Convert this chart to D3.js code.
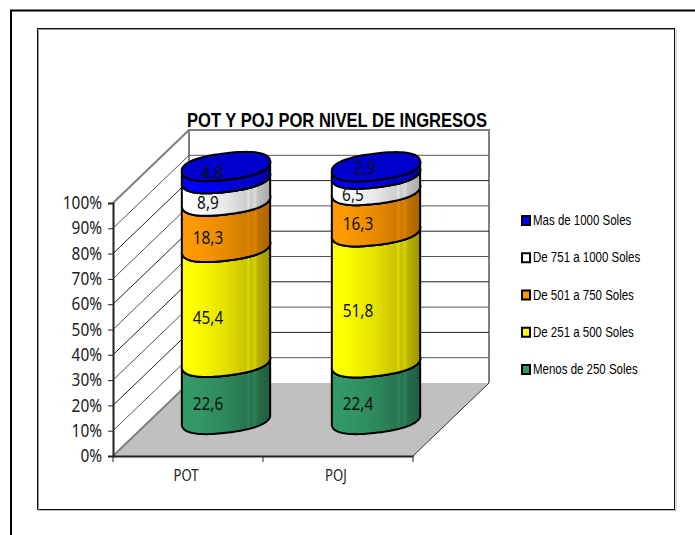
<!DOCTYPE html>
<html><head><meta charset="utf-8">
<style>html,body{margin:0;padding:0;background:#fff}svg{display:block}</style>
<script src="https://cdn.jsdelivr.net/npm/d3@7"></script></head>
<body><svg id="c" width="695" height="535"></svg>
<script>
const titleText = "POT Y POJ POR NIVEL DE INGRESOS";
const categories = ["POT", "POJ"];
const seriesNames = ["Menos de 250 Soles", "De 251 a 500 Soles", "De 501 a 750 Soles", "De 751 a 1000 Soles", "Mas de 1000 Soles"];
const potValues = [22.6, 45.4, 18.3, 8.9, 4.8];
const pojValues = [22.4, 51.8, 16.3, 6.5, 2.9];
const tickValues = [0, 10, 20, 30, 40, 50, 60, 70, 80, 90, 100];
const seriesColors = ["#339966", "#ffff00", "#ff9900", "#ffffff", "#0000ff"];
const sideDark = ["#1f5c3f", "#9c9400", "#a86300", "#a8a8a8", "#000099"];

const svg = d3.select("#c");
const x = d3.scaleBand().domain(categories).range([113, 413]);
const y = d3.scaleLinear().domain([0, 100]).range([456, 203]);
const depthX = 76, depthY = -73;
const rx = 44.5, ry = 13.2, tilt = -7;
const sansFont = "'Noto Sans',sans-serif", narrowFont = "'Liberation Sans',Arial,sans-serif";
function condense(sel, ratio) {
  sel.each(function () {
    const l = this.getComputedTextLength();
    d3.select(this).attr("textLength", l * ratio).attr("lengthAdjust", "spacingAndGlyphs");
  });
}

// frames
svg.append("path").attr("d", "M11,535V10.5H695").attr("fill", "none").attr("stroke", "#000").attr("stroke-width", 2);
svg.append("rect").attr("x", 37.5).attr("y", 28.5).attr("width", 637).attr("height", 481).attr("fill", "#fff").attr("stroke", "#111").attr("stroke-width", 1);
svg.append("path").attr("d", "M38.5,510.5V29.5H674").attr("fill", "none").attr("stroke", "#999").attr("stroke-width", 1);
svg.append("path").attr("d", "M38,510.5H676V29").attr("fill", "none").attr("stroke", "#bbb").attr("stroke-width", 1);

const xL = 113, xR = 413, y0 = y(0), y1 = y(100);
// walls
svg.append("path").attr("d", `M${xL},${y0}L${xL + depthX},${y0 + depthY}H${xR + depthX}L${xR},${y0}Z`).attr("fill", "#c0c0c0").attr("stroke", "none");
svg.append("path").attr("d", `M${xL + depthX},${y0 + depthY}V${y1 + depthY}H${xR + depthX}V${y0 + depthY}`).attr("fill", "none").attr("stroke", "#808080").attr("stroke-width", 2);
svg.append("path").attr("d", `M${xL},${y1}L${xL + depthX},${y1 + depthY}`).attr("stroke", "#808080").attr("stroke-width", 2).attr("fill", "none");
svg.append("path").attr("d", `M${xL},${y0}L${xL + depthX},${y0 + depthY}`).attr("stroke", "#808080").attr("stroke-width", 2).attr("fill", "none");
svg.append("path").attr("d", `M${xR},${y0}L${xR + depthX},${y0 + depthY}`).attr("stroke", "#333").attr("stroke-width", 1).attr("fill", "none");
tickValues.slice(1, -1).forEach((t, k) => {
  svg.append("path").attr("d", `M${xL},${y(t)}L${xL + depthX},${y(t) + depthY}H${xR + depthX}`)
    .attr("fill", "none").attr("stroke", k % 2 ? "#222" : "#555").attr("stroke-width", 1);
});

// axes
const yAxis = d3.axisLeft(y).tickValues(tickValues).tickFormat(d => d + "%").tickSize(5).tickPadding(6);
const gy = svg.append("g").attr("transform", `translate(${xL},0)`).call(yAxis);
const xAxis = d3.axisBottom(x).tickSize(0).tickPadding(14);
const gx = svg.append("g").attr("transform", `translate(0,${y0})`).call(xAxis);
[gy, gx].forEach(g => {
  g.selectAll("path.domain").attr("stroke", "#222").attr("stroke-width", 2);
  g.selectAll("line").attr("stroke", "#222");
  g.selectAll("text").attr("fill", "#222").attr("font-family", sansFont).attr("font-size", 17.5);
  condense(g.selectAll("text"), 0.88);
});
gx.selectAll("text").attr("font-size", 16).attr("textLength", null).attr("lengthAdjust", null).attr("dx", -2);
condense(gx.selectAll("text"), 0.82);
svg.selectAll(".xb").data([xL, (xL + xR) / 2, xR]).enter().append("line")
  .attr("x1", d => d).attr("x2", d => d).attr("y1", y0).attr("y2", y0 + 6).attr("stroke", "#222");

// gradients
const defs = svg.append("defs");
seriesColors.forEach((c, i) => {
  const g = defs.append("linearGradient").attr("id", "g" + i);
  const m = d3.interpolateRgb(c, sideDark[i]);
  [[0, 0], [.15, 0.02], [.5, .28], [.72, .55], [.755, .35], [.78, .62], [.83, .42], [.86, .72], [1, 1]].forEach(s =>
    g.append("stop").attr("offset", s[0]).attr("stop-color", m(s[1])));
});

const toRad = tilt * Math.PI / 180;
const shoulder = 0.85;
function pt(cx, cy, a) {
  const c = Math.cos(a), s = Math.sin(a);
  const ex = rx * Math.sign(c) * Math.pow(Math.abs(c), shoulder), ey = ry * Math.sign(s) * Math.pow(Math.abs(s), shoulder);
  return [cx + ex * Math.cos(toRad) - ey * Math.sin(toRad), cy + ex * Math.sin(toRad) + ey * Math.cos(toRad)];
}
const seq = d3.range(0, 61).map(k => k / 60 * Math.PI);
function segPath(cx, yb, yt) {
  const front = seq.map(a => pt(cx, yb, a));
  const back = seq.slice().reverse().map(a => pt(cx, yt, a));
  return d3.line()(front.concat(back)) + "Z";
}
function capPath(cx, cy) {
  return d3.line()(d3.range(0, 73).map(k => pt(cx, cy, k / 72 * 2 * Math.PI))) + "Z";
}

const rows = [potValues, pojValues];
const labelNudge = { "0-4": [4, -13], "1-4": [7, -16], "1-3": [-5, -1] };
rows.forEach((vals, ci) => {
  const cx = x(categories[ci]) + x.bandwidth() / 2 + depthX / 2;
  const stack = d3.cumsum(vals);
  const g = svg.append("g");
  vals.forEach((v, i) => {
    const yb = y(i ? stack[i - 1] : 0) + depthY / 2;
    const yt = y(stack[i]) + depthY / 2;
    g.append("path").attr("d", segPath(cx, yb, yt)).attr("fill", `url(#g${i})`).attr("stroke", "#000").attr("stroke-width", 2).attr("stroke-linejoin", "round");
    g.append("path").attr("d", d3.line()(seq.map(a => pt(cx, yt, a)))).attr("fill", "none").attr("stroke", "#000").attr("stroke-width", 2);
  });
  const top = y(stack[4]) + depthY / 2;
  g.append("path").attr("d", capPath(cx, top)).attr("fill", "#0000cc").attr("stroke", "#000").attr("stroke-width", 2);
  vals.forEach((v, i) => {
    const ymid = y((i ? stack[i - 1] : 0) + v / 2) + depthY / 2 + ry;
    const n = labelNudge[ci + "-" + i] || [0, 0];
    const t = g.append("text").attr("x", cx - 18 + n[0]).attr("y", ymid + n[1] + 6).attr("text-anchor", "middle")
      .attr("font-family", sansFont).attr("font-size", 17.5).attr("fill", "#111")
      .text(String(v).replace(".", ","));
    condense(t, 0.88);
  });
});

// title
svg.append("text").attr("x", 337).attr("y", 126.5).attr("text-anchor", "middle")
  .attr("font-family", narrowFont).attr("font-weight", "bold").attr("font-size", 20).attr("fill", "#000")
  .attr("textLength", 300).attr("lengthAdjust", "spacingAndGlyphs").text(titleText);

// legend
const legendY = d3.scalePoint().domain(seriesNames.slice().reverse()).range([220, 369]);
seriesNames.forEach((s, i) => {
  const ly = legendY(s);
  svg.append("rect").attr("x", 522).attr("y", ly - 4).attr("width", 8).attr("height", 9).attr("fill", seriesColors[i]).attr("stroke", "#000").attr("stroke-width", 2);
  const t = svg.append("text").attr("x", 533).attr("y", ly + 5).attr("font-family", narrowFont).attr("font-size", 14).attr("fill", "#000").text(s);
  condense(t, 0.82);
});
</script></body></html>
